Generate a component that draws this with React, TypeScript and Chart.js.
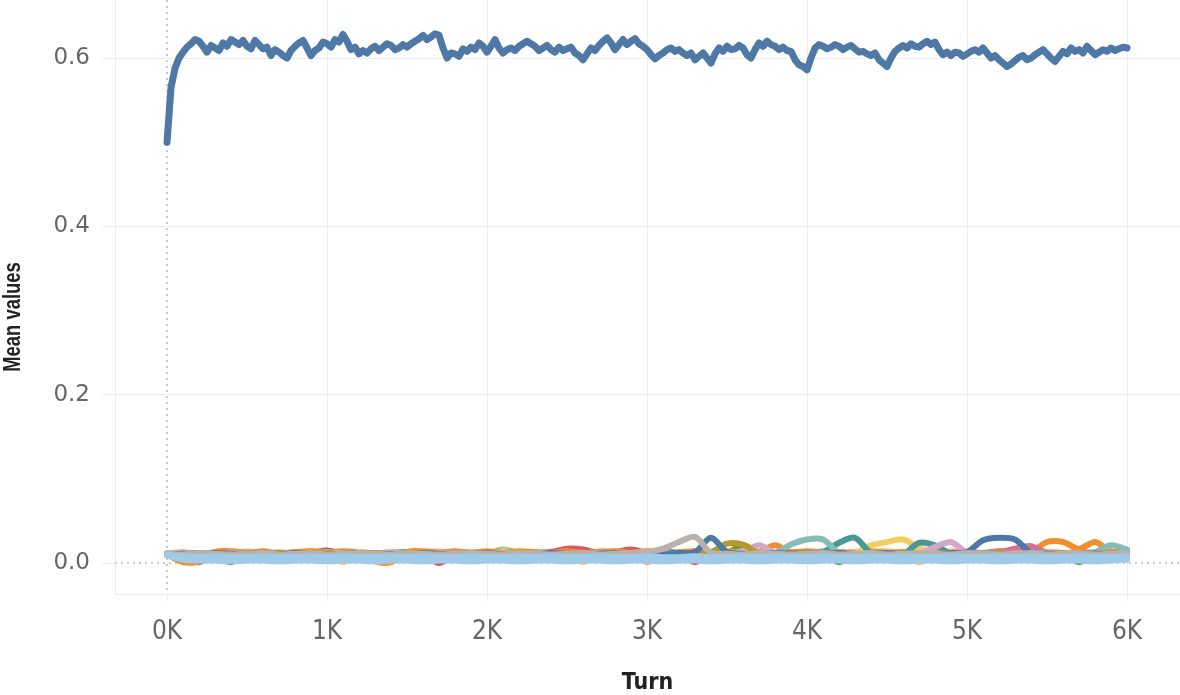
import { useEffect, useRef } from 'react';
import { Chart, registerables } from 'chart.js';

Chart.register(...registerables);

// ---------- categories / ticks ----------
const MAIN_TURNS = Array.from({ length: 241 }, (_, i) => i * 25);
const SMALL_TURNS = Array.from({ length: 61 }, (_, i) => i * 100);
const X_TICKS = [0, 1000, 2000, 3000, 4000, 5000, 6000];
const X_TICK_LABELS = ['0K', '1K', '2K', '3K', '4K', '5K', '6K'];
const Y_TICKS = [0, 0.2, 0.4, 0.6];
const Y_TICK_LABELS = ['0.0', '0.2', '0.4', '0.6'];
const X_TITLE = 'Turn';
const Y_TITLE = 'Mean values';

// ---------- series values ----------
const meanMain = [
  0.500, 0.565, 0.588, 0.600, 0.607, 0.613, 0.617, 0.622, 0.620, 0.614,
  0.607, 0.615, 0.612, 0.609, 0.618, 0.614, 0.622, 0.619, 0.616, 0.621,
  0.614, 0.611, 0.621, 0.616, 0.611, 0.613, 0.603, 0.610, 0.607, 0.603,
  0.600, 0.609, 0.614, 0.618, 0.621, 0.612, 0.603, 0.609, 0.612, 0.619,
  0.617, 0.613, 0.622, 0.619, 0.628, 0.620, 0.610, 0.613, 0.605, 0.609,
  0.606, 0.611, 0.614, 0.609, 0.613, 0.617, 0.615, 0.610, 0.612, 0.616,
  0.613, 0.617, 0.620, 0.623, 0.627, 0.622, 0.625, 0.629, 0.627, 0.612,
  0.600, 0.606, 0.605, 0.602, 0.611, 0.608, 0.613, 0.610, 0.618, 0.614,
  0.607, 0.614, 0.622, 0.612, 0.606, 0.610, 0.612, 0.609, 0.614, 0.617,
  0.620, 0.617, 0.614, 0.609, 0.612, 0.615, 0.610, 0.607, 0.613, 0.609,
  0.611, 0.613, 0.606, 0.603, 0.598, 0.605, 0.612, 0.609, 0.615, 0.620,
  0.624, 0.618, 0.610, 0.616, 0.622, 0.616, 0.620, 0.623, 0.617, 0.614,
  0.610, 0.604, 0.599, 0.603, 0.606, 0.610, 0.612, 0.608, 0.610, 0.606,
  0.603, 0.606, 0.598, 0.602, 0.606, 0.600, 0.594, 0.605, 0.612, 0.608,
  0.614, 0.610, 0.611, 0.615, 0.612, 0.604, 0.600, 0.610, 0.618, 0.614,
  0.620, 0.616, 0.614, 0.610, 0.613, 0.609, 0.608, 0.598, 0.592, 0.590,
  0.586, 0.600, 0.612, 0.616, 0.614, 0.611, 0.613, 0.616, 0.614, 0.610,
  0.613, 0.615, 0.611, 0.607, 0.608, 0.605, 0.603, 0.606, 0.598, 0.594,
  0.590, 0.600, 0.608, 0.612, 0.615, 0.612, 0.617, 0.614, 0.613, 0.617,
  0.620, 0.616, 0.619, 0.610, 0.604, 0.607, 0.603, 0.607, 0.606, 0.602,
  0.605, 0.608, 0.610, 0.607, 0.612, 0.606, 0.600, 0.603, 0.598, 0.594,
  0.590, 0.593, 0.597, 0.601, 0.603, 0.598, 0.600, 0.604, 0.607, 0.610,
  0.605, 0.600, 0.596, 0.602, 0.608, 0.605, 0.612, 0.608, 0.610, 0.606,
  0.614, 0.609, 0.604, 0.607, 0.610, 0.608, 0.612, 0.609, 0.611, 0.613,
  0.612,
];

const lightBlueA = [
  0.010, 0.008, 0.007, 0.008, 0.007, 0.007, 0.008, 0.007, 0.007, 0.008,
  0.007, 0.008, 0.007, 0.007, 0.008, 0.007, 0.008, 0.007, 0.007, 0.008,
  0.007, 0.007, 0.008, 0.007, 0.008, 0.007, 0.007, 0.008, 0.007, 0.007,
  0.008, 0.007, 0.007, 0.008, 0.007, 0.007, 0.008, 0.007, 0.008, 0.007,
  0.007, 0.008, 0.007, 0.007, 0.008, 0.007, 0.008, 0.007, 0.007, 0.008,
  0.007, 0.007, 0.008, 0.007, 0.008, 0.007, 0.007, 0.008, 0.007, 0.007,
  0.008,
];
const lightBlueB = [
  0.009, 0.004, 0.003, 0.003, 0.002, 0.003, 0.003, 0.002, 0.003, 0.003,
  0.002, 0.003, 0.003, 0.002, 0.003, 0.003, 0.002, 0.003, 0.003, 0.002,
  0.003, 0.003, 0.002, 0.003, 0.003, 0.002, 0.003, 0.003, 0.002, 0.003,
  0.003, 0.002, 0.003, 0.003, 0.002, 0.003, 0.003, 0.002, 0.003, 0.003,
  0.002, 0.003, 0.003, 0.002, 0.003, 0.003, 0.002, 0.003, 0.003, 0.002,
  0.003, 0.003, 0.002, 0.003, 0.003, 0.002, 0.003, 0.003, 0.002, 0.003,
  0.004,
];
const grayLight = [
  0.011, 0.010, 0.012, 0.011, 0.010, 0.011, 0.012, 0.010, 0.011, 0.012,
  0.010, 0.011, 0.012, 0.011, 0.010, 0.012, 0.011, 0.010, 0.011, 0.012,
  0.011, 0.010, 0.012, 0.011, 0.010, 0.011, 0.012, 0.010, 0.011, 0.012,
  0.013, 0.017, 0.025, 0.031, 0.012, 0.011, 0.010, 0.012, 0.011, 0.010,
  0.011, 0.012, 0.010, 0.011, 0.012, 0.010, 0.011, 0.012, 0.011, 0.010,
  0.012, 0.011, 0.010, 0.011, 0.012, 0.010, 0.011, 0.012, 0.010, 0.011,
  0.012,
];
const blueSecond = [
  0.010, 0.011, 0.010, 0.012, 0.011, 0.010, 0.011, 0.010, 0.012, 0.011,
  0.010, 0.011, 0.012, 0.010, 0.011, 0.010, 0.012, 0.011, 0.010, 0.011,
  0.012, 0.010, 0.011, 0.010, 0.012, 0.011, 0.010, 0.011, 0.012, 0.010,
  0.011, 0.010, 0.012, 0.013, 0.030, 0.013, 0.011, 0.010, 0.012, 0.011,
  0.010, 0.011, 0.012, 0.010, 0.011, 0.012, 0.010, 0.011, 0.010, 0.012,
  0.013, 0.027, 0.030, 0.028, 0.012, 0.011, 0.010, 0.012, 0.011, 0.010,
  0.011,
];
const olive = [
  0.010, 0.011, 0.010, 0.012, 0.011, 0.010, 0.011, 0.012, 0.010, 0.011,
  0.012, 0.010, 0.011, 0.012, 0.010, 0.011, 0.012, 0.011, 0.010, 0.012,
  0.011, 0.010, 0.012, 0.011, 0.010, 0.011, 0.012, 0.010, 0.011, 0.012,
  0.011, 0.010, 0.011, 0.012, 0.013, 0.023, 0.022, 0.011, 0.010, 0.012,
  0.011, 0.010, 0.012, 0.011, 0.010, 0.011, 0.012, 0.010, 0.011, 0.012,
  0.011, 0.010, 0.012, 0.011, 0.010, 0.011, 0.012, 0.010, 0.011, 0.012,
  0.011,
];
const green = [
  0.010, 0.012, 0.011, 0.009, 0.001, 0.011, 0.012, 0.010, 0.011, 0.012,
  0.011, 0.010, 0.012, 0.011, 0.012, 0.013, 0.011, 0.010, 0.012, 0.011,
  0.012, 0.011, 0.010, 0.012, 0.011, 0.012, 0.011, 0.010, 0.012, 0.011,
  0.012, 0.011, 0.012, 0.011, 0.010, 0.012, 0.021, 0.012, 0.011, 0.010,
  0.012, 0.011, 0.001, 0.011, 0.012, 0.011, 0.010, 0.012, 0.011, 0.010,
  0.012, 0.011, 0.012, 0.011, 0.010, 0.012, 0.011, 0.001, 0.011, 0.012,
  0.015,
];
const lilac = [
  0.011, 0.012, 0.010, 0.011, 0.012, 0.011, 0.010, 0.012, 0.011, 0.010,
  0.012, 0.011, 0.010, 0.011, 0.012, 0.010, 0.011, 0.012, 0.011, 0.010,
  0.011, 0.012, 0.010, 0.011, 0.012, 0.011, 0.010, 0.011, 0.012, 0.010,
  0.011, 0.012, 0.010, 0.011, 0.012, 0.010, 0.013, 0.021, 0.012, 0.011,
  0.010, 0.011, 0.012, 0.010, 0.011, 0.012, 0.010, 0.011, 0.019, 0.025,
  0.012, 0.011, 0.010, 0.012, 0.011, 0.010, 0.012, 0.011, 0.010, 0.011,
  0.012,
];
const orange = [
  0.010, 0.001, 0.002, 0.013, 0.014, 0.012, 0.014, 0.011, 0.013, 0.014,
  0.012, 0.014, 0.012, 0.002, 0.001, 0.013, 0.014, 0.012, 0.014, 0.012,
  0.014, 0.012, 0.014, 0.013, 0.012, 0.014, 0.012, 0.013, 0.014, 0.012,
  0.014, 0.012, 0.013, 0.014, 0.012, 0.014, 0.012, 0.013, 0.021, 0.013,
  0.014, 0.012, 0.013, 0.012, 0.014, 0.012, 0.013, 0.012, 0.014, 0.012,
  0.013, 0.012, 0.014, 0.012, 0.013, 0.025, 0.025, 0.017, 0.025, 0.014,
  0.012,
];
const lightTeal = [
  0.011, 0.012, 0.010, 0.011, 0.012, 0.010, 0.011, 0.012, 0.011, 0.010,
  0.012, 0.011, 0.010, 0.011, 0.012, 0.010, 0.011, 0.012, 0.010, 0.011,
  0.012, 0.011, 0.010, 0.012, 0.011, 0.010, 0.011, 0.012, 0.010, 0.011,
  0.012, 0.010, 0.011, 0.012, 0.011, 0.010, 0.012, 0.011, 0.012, 0.022,
  0.028, 0.028, 0.012, 0.011, 0.010, 0.012, 0.011, 0.010, 0.011, 0.012,
  0.010, 0.011, 0.012, 0.010, 0.011, 0.012, 0.010, 0.011, 0.013, 0.021,
  0.016,
];
const teal = [
  0.010, 0.011, 0.012, 0.010, 0.011, 0.012, 0.011, 0.010, 0.012, 0.011,
  0.010, 0.011, 0.012, 0.011, 0.010, 0.012, 0.011, 0.010, 0.011, 0.012,
  0.011, 0.010, 0.012, 0.011, 0.010, 0.011, 0.012, 0.010, 0.011, 0.012,
  0.011, 0.015, 0.011, 0.012, 0.010, 0.011, 0.012, 0.011, 0.010, 0.011,
  0.012, 0.013, 0.024, 0.030, 0.012, 0.011, 0.010, 0.024, 0.021, 0.011,
  0.010, 0.012, 0.011, 0.010, 0.012, 0.011, 0.010, 0.011, 0.012, 0.010,
  0.011,
];
const yellow = [
  0.011, 0.010, 0.011, 0.012, 0.010, 0.011, 0.010, 0.012, 0.011, 0.010,
  0.011, 0.012, 0.010, 0.011, 0.010, 0.012, 0.011, 0.010, 0.011, 0.012,
  0.010, 0.011, 0.012, 0.010, 0.011, 0.010, 0.012, 0.011, 0.010, 0.011,
  0.012, 0.010, 0.011, 0.012, 0.010, 0.011, 0.010, 0.012, 0.011, 0.010,
  0.011, 0.012, 0.010, 0.012, 0.021, 0.025, 0.028, 0.018, 0.012, 0.011,
  0.010, 0.012, 0.011, 0.010, 0.011, 0.012, 0.010, 0.011, 0.012, 0.010,
  0.011,
];
const magenta = [
  0.011, 0.010, 0.012, 0.011, 0.010, 0.012, 0.011, 0.012, 0.010, 0.011,
  0.012, 0.011, 0.010, 0.012, 0.011, 0.010, 0.012, 0.011, 0.012, 0.010,
  0.011, 0.012, 0.010, 0.011, 0.012, 0.011, 0.010, 0.012, 0.011, 0.012,
  0.010, 0.011, 0.012, 0.011, 0.010, 0.012, 0.011, 0.010, 0.012, 0.011,
  0.010, 0.012, 0.011, 0.012, 0.010, 0.011, 0.012, 0.011, 0.010, 0.012,
  0.011, 0.012, 0.013, 0.017, 0.020, 0.012, 0.011, 0.010, 0.012, 0.011,
  0.010,
];
const lightOrange = [
  0.011, 0.013, 0.010, 0.013, 0.011, 0.014, 0.010, 0.013, 0.011, 0.014,
  0.012, 0.001, 0.013, 0.011, 0.013, 0.010, 0.013, 0.014, 0.011, 0.013,
  0.010, 0.014, 0.011, 0.013, 0.010, 0.013, 0.001, 0.014, 0.012, 0.011,
  0.014, 0.013, 0.011, 0.014, 0.012, 0.011, 0.014, 0.013, 0.011, 0.013,
  0.011, 0.014, 0.012, 0.010, 0.013, 0.014, 0.011, 0.001, 0.010, 0.014,
  0.012, 0.011, 0.014, 0.013, 0.010, 0.013, 0.011, 0.014, 0.012, 0.011,
  0.010,
];
const lightGreen = [
  0.011, 0.012, 0.011, 0.010, 0.012, 0.011, 0.012, 0.010, 0.011, 0.012,
  0.011, 0.010, 0.012, 0.011, 0.012, 0.011, 0.010, 0.012, 0.011, 0.012,
  0.011, 0.016, 0.012, 0.011, 0.010, 0.012, 0.011, 0.012, 0.010, 0.011,
  0.012, 0.011, 0.010, 0.012, 0.011, 0.012, 0.010, 0.011, 0.012, 0.011,
  0.012, 0.010, 0.011, 0.012, 0.011, 0.010, 0.012, 0.011, 0.012, 0.010,
  0.011, 0.012, 0.010, 0.011, 0.012, 0.011, 0.010, 0.012, 0.011, 0.012,
  0.014,
];
const red = [
  0.010, 0.011, 0.012, 0.010, 0.011, 0.012, 0.011, 0.010, 0.012, 0.011,
  0.012, 0.011, 0.010, 0.012, 0.011, 0.012, 0.011, 0.000, 0.011, 0.012,
  0.011, 0.012, 0.011, 0.012, 0.013, 0.017, 0.016, 0.012, 0.013, 0.016,
  0.012, 0.011, 0.010, 0.001, 0.011, 0.012, 0.011, 0.010, 0.012, 0.011,
  0.012, 0.011, 0.012, 0.010, 0.011, 0.012, 0.011, 0.012, 0.010, 0.011,
  0.012, 0.011, 0.010, 0.012, 0.011, 0.012, 0.011, 0.010, 0.012, 0.011,
  0.012,
];
const pink = [
  0.012, 0.011, 0.010, 0.012, 0.011, 0.013, 0.011, 0.012, 0.010, 0.011,
  0.013, 0.012, 0.011, 0.010, 0.012, 0.011, 0.013, 0.012, 0.011, 0.010,
  0.012, 0.011, 0.013, 0.012, 0.010, 0.011, 0.012, 0.013, 0.011, 0.012,
  0.001, 0.011, 0.012, 0.010, 0.011, 0.012, 0.011, 0.013, 0.012, 0.011,
  0.010, 0.012, 0.011, 0.013, 0.012, 0.011, 0.010, 0.012, 0.011, 0.013,
  0.012, 0.011, 0.010, 0.012, 0.011, 0.013, 0.012, 0.011, 0.010, 0.012,
  0.011,
];
const grayDark = [
  0.011, 0.010, 0.012, 0.011, 0.010, 0.012, 0.011, 0.010, 0.011, 0.012,
  0.015, 0.011, 0.010, 0.012, 0.011, 0.010, 0.011, 0.012, 0.010, 0.011,
  0.012, 0.010, 0.011, 0.012, 0.011, 0.010, 0.012, 0.011, 0.010, 0.011,
  0.012, 0.011, 0.010, 0.012, 0.011, 0.010, 0.011, 0.012, 0.010, 0.011,
  0.012, 0.010, 0.011, 0.012, 0.010, 0.011, 0.012, 0.011, 0.010, 0.012,
  0.011, 0.010, 0.012, 0.011, 0.010, 0.012, 0.011, 0.010, 0.011, 0.012,
  0.011,
];
const lightPink = [
  0.010, 0.012, 0.011, 0.010, 0.012, 0.011, 0.013, 0.010, 0.011, 0.012,
  0.011, 0.010, 0.012, 0.011, 0.013, 0.010, 0.011, 0.012, 0.011, 0.010,
  0.012, 0.011, 0.010, 0.012, 0.011, 0.013, 0.010, 0.011, 0.012, 0.011,
  0.010, 0.012, 0.011, 0.010, 0.012, 0.011, 0.010, 0.012, 0.011, 0.013,
  0.011, 0.010, 0.012, 0.011, 0.010, 0.012, 0.011, 0.013, 0.010, 0.011,
  0.012, 0.011, 0.010, 0.012, 0.011, 0.010, 0.012, 0.011, 0.013, 0.011,
  0.010,
];
const purple = [
  0.011, 0.010, 0.011, 0.012, 0.010, 0.011, 0.012, 0.011, 0.010, 0.012,
  0.011, 0.010, 0.011, 0.012, 0.010, 0.011, 0.012, 0.010, 0.011, 0.012,
  0.011, 0.010, 0.012, 0.011, 0.010, 0.011, 0.012, 0.011, 0.010, 0.012,
  0.011, 0.010, 0.011, 0.012, 0.010, 0.011, 0.012, 0.010, 0.011, 0.012,
  0.011, 0.010, 0.011, 0.012, 0.010, 0.011, 0.012, 0.011, 0.010, 0.012,
  0.011, 0.010, 0.011, 0.012, 0.010, 0.011, 0.012, 0.010, 0.011, 0.012,
  0.011,
];
const brown = [
  0.010, 0.011, 0.001, 0.011, 0.010, 0.012, 0.011, 0.010, 0.011, 0.012,
  0.010, 0.011, 0.012, 0.010, 0.011, 0.010, 0.012, 0.011, 0.010, 0.011,
  0.012, 0.010, 0.011, 0.010, 0.012, 0.011, 0.010, 0.011, 0.012, 0.010,
  0.011, 0.010, 0.012, 0.011, 0.010, 0.011, 0.012, 0.010, 0.011, 0.010,
  0.012, 0.011, 0.010, 0.011, 0.012, 0.010, 0.011, 0.010, 0.012, 0.011,
  0.010, 0.011, 0.012, 0.010, 0.011, 0.010, 0.012, 0.011, 0.010, 0.011,
  0.011,
];
const lightBrown = [
  0.011, 0.012, 0.010, 0.011, 0.012, 0.010, 0.011, 0.012, 0.011, 0.010,
  0.011, 0.012, 0.010, 0.011, 0.012, 0.011, 0.010, 0.011, 0.012, 0.010,
  0.011, 0.012, 0.011, 0.010, 0.011, 0.012, 0.010, 0.011, 0.012, 0.011,
  0.010, 0.011, 0.012, 0.010, 0.011, 0.012, 0.011, 0.010, 0.011, 0.012,
  0.010, 0.011, 0.012, 0.011, 0.010, 0.011, 0.012, 0.010, 0.011, 0.012,
  0.011, 0.010, 0.011, 0.012, 0.010, 0.011, 0.012, 0.011, 0.010, 0.011,
  0.012,
];

// small series, first = drawn on top
const SMALL_SERIES = [
  lightBlueA, lightBlueB, grayLight, blueSecond, olive, lilac, lightTeal, teal,
  yellow, magenta, orange, lightOrange, green, lightGreen, red, pink,
  grayDark, lightPink, purple, brown, lightBrown,
];
const SMALL_COLORS = [
  '#A0CBE8', '#A0CBE8', '#BAB0AC', '#4E79A7', '#B6992D', '#D4A6C8', '#86BCB6', '#499894',
  '#F1CE63', '#D37295', '#F28E2B', '#FFBE7D', '#59A14F', '#8CD17D', '#E15759', '#FF9D9A',
  '#79706E', '#FABFD2', '#B07AA1', '#9D7660', '#D7B5A6',
];

const GRID = '#ececec';

const zeroLines = {
  id: 'zeroLines',
  beforeDatasetsDraw(chart: any) {
    const { ctx, chartArea, scales } = chart;
    const y0 = scales.y.getPixelForValue(0);
    const x0 = scales.x.getPixelForValue(0);
    ctx.save();
    ctx.strokeStyle = '#b8b8b8';
    ctx.lineWidth = 1.5;
    ctx.setLineDash([2, 4]);
    ctx.beginPath();
    ctx.moveTo(chartArea.left, y0);
    ctx.lineTo(chartArea.right, y0);
    ctx.moveTo(x0, chartArea.top);
    ctx.lineTo(x0, chartArea.bottom);
    ctx.stroke();
    ctx.restore();
  },
};

// y-axis title drawn as real (narrow, bold) text
const yTitle = {
  id: 'yTitle',
  afterDraw(chart: any) {
    const { ctx } = chart;
    ctx.save();
    ctx.translate(14, 317);
    ctx.rotate(-Math.PI / 2);
    ctx.scale(0.8, 1);
    ctx.font = "bold 23px 'Liberation Sans', Arial, sans-serif";
    ctx.fillStyle = '#222';
    ctx.textAlign = 'center';
    ctx.textBaseline = 'middle';
    ctx.fillText(Y_TITLE, 0, 0);
    ctx.restore();
  },
};

export default function App() {
  const ref = useRef<HTMLCanvasElement | null>(null);

  useEffect(() => {
    document.body.style.margin = '0';
    const canvas = ref.current;
    if (!canvas) return;

    const datasets: any[] = [
      {
        label: 'Mean value (main)',
        data: MAIN_TURNS.map((t, i) => ({ x: t, y: meanMain[i] })),
        borderColor: '#4E79A7',
        borderWidth: 7,
        tension: 0,
        borderJoinStyle: 'round',
        borderCapStyle: 'round',
      },
      ...SMALL_SERIES.map((vals, k) => ({
        label: 'Series ' + (k + 1),
        data: SMALL_TURNS.map((t, i) => ({ x: t, y: vals[i] })),
        borderColor: SMALL_COLORS[k],
        borderWidth: 6,
        tension: 0.3,
        borderJoinStyle: 'round',
        borderCapStyle: 'round',
      })),
    ];

    const chart = new Chart(canvas, {
      type: 'line',
      data: { datasets },
      options: {
        responsive: false,
        animation: false,
        layout: { padding: 0 },
        elements: { point: { radius: 0 } },
        plugins: { legend: { display: false }, tooltip: { enabled: false } },
        scales: {
          x: {
            type: 'linear',
            min: -325,
            max: 6331,
            afterBuildTicks: (s: any) => {
              s.ticks = X_TICKS.map((v) => ({ value: v }));
            },
            afterFit: (s: any) => {
              s.height = 101;
              s.paddingLeft = 0;
              s.paddingRight = 0;
            },
            grid: {
              color: (c: any) => (c.tick && c.tick.value === 0 ? 'rgba(0,0,0,0)' : GRID),
              tickColor: GRID,
              tickLength: 7,
              lineWidth: 1,
            },
            border: { display: true, color: GRID, width: 1 },
            ticks: {
              padding: 16,
              color: '#666',
              font: { family: "'DejaVu Sans Condensed', 'Liberation Sans Narrow', sans-serif", size: 26 },
              maxRotation: 0,
              autoSkip: false,
              callback: (v: any) => X_TICK_LABELS[X_TICKS.indexOf(v)],
            },
            title: {
              display: true,
              text: X_TITLE,
              color: '#222',
              padding: { top: 0, bottom: 0 },
              font: { family: "'DejaVu Sans Condensed', 'Liberation Sans Narrow', sans-serif", size: 23, weight: 'bold', lineHeight: 1 },
            },
          },
          y: {
            type: 'linear',
            min: -0.0368,
            max: 0.669,
            afterBuildTicks: (s: any) => {
              s.ticks = Y_TICKS.map((v) => ({ value: v }));
            },
            afterFit: (s: any) => {
              s.width = 115;
              s.paddingTop = 0;
              s.paddingBottom = 0;
            },
            grid: {
              color: (c: any) => (c.tick && c.tick.value === 0 ? 'rgba(0,0,0,0)' : GRID),
              tickColor: GRID,
              tickLength: 13,
              lineWidth: 1,
            },
            border: { display: true, color: GRID, width: 1 },
            ticks: {
              padding: 12,
              color: '#666',
              font: { family: "'DejaVu Sans', sans-serif", size: 23 },
              callback: (v: any) => Y_TICK_LABELS[Y_TICKS.indexOf(v)],
            },
            title: { display: false },
          },
        },
      },
      plugins: [zeroLines, yTitle],
    } as any);

    return () => chart.destroy();
  }, []);

  return (
    <div style={{ width: 1180, height: 695, background: '#fff' }}>
      <canvas ref={ref} width={1180} height={695} style={{ display: 'block', width: 1180, height: 695 }} />
    </div>
  );
}
